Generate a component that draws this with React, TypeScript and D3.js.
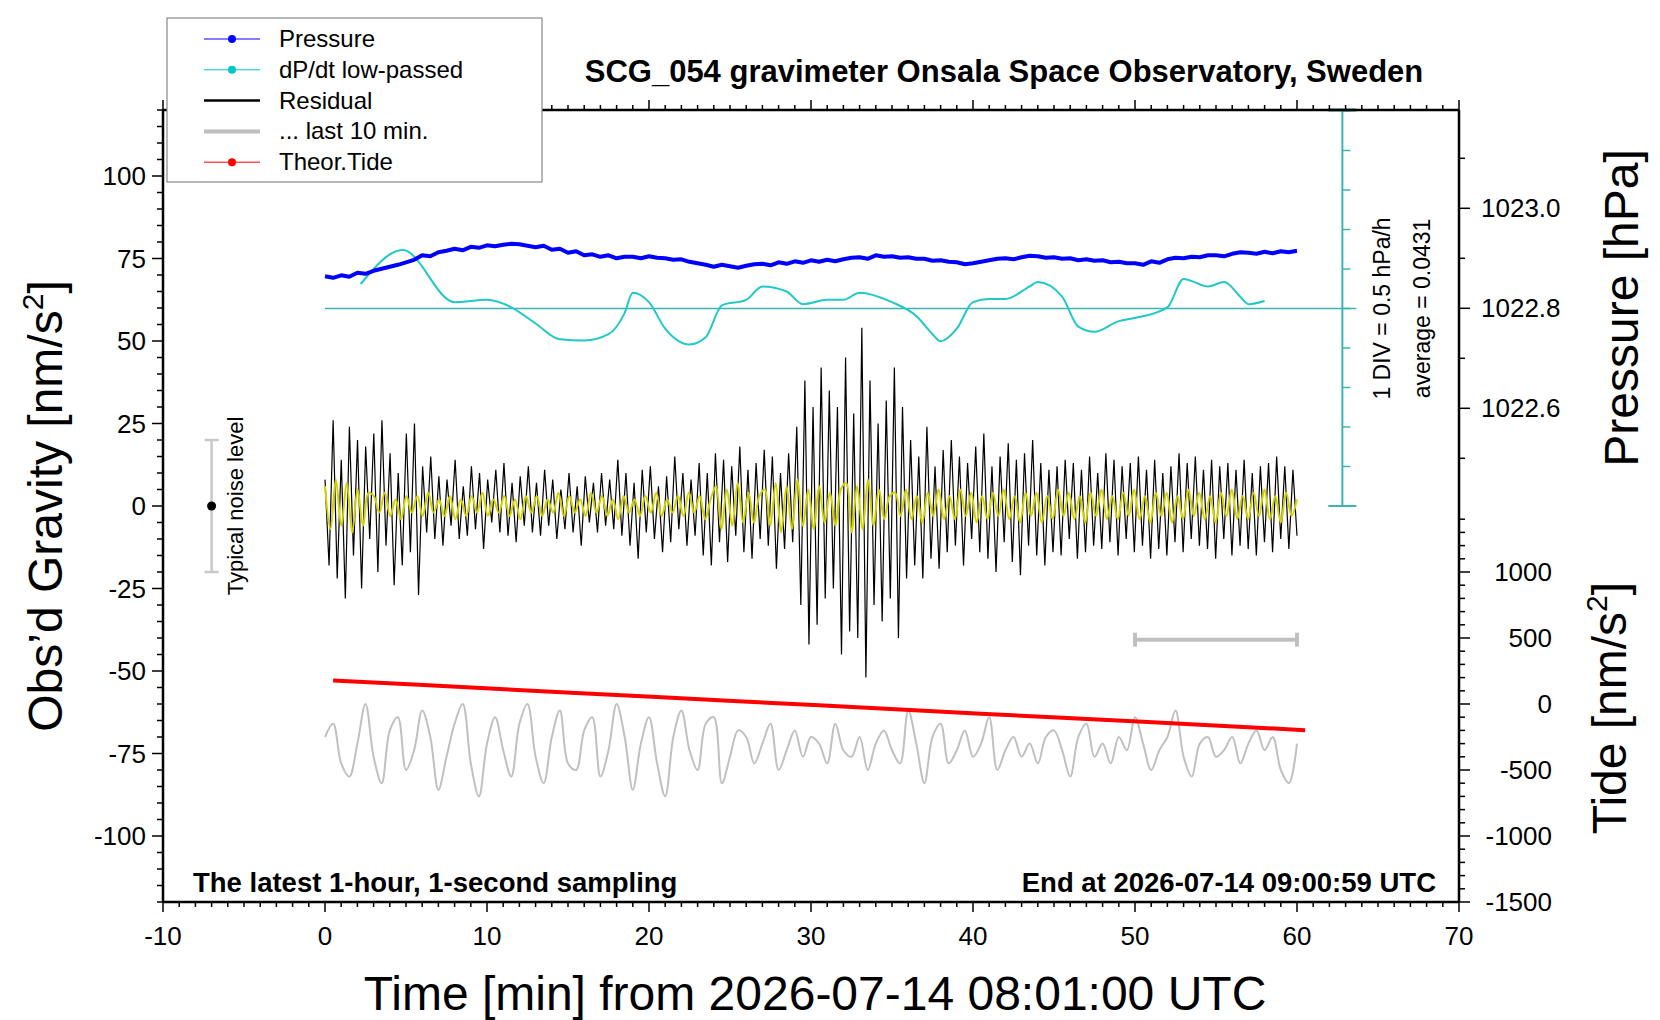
import React, { useEffect } from "react";
import * as d3 from "d3";

// pressure [hPa], every 30 s, 0..60 min
const pressure = [
  1022.864, 1022.861, 1022.866, 1022.863, 1022.871, 1022.869, 1022.875, 1022.879, 1022.883, 1022.887,
  1022.892, 1022.897, 1022.906, 1022.904, 1022.912, 1022.915, 1022.919, 1022.916, 1022.923, 1022.921,
  1022.926, 1022.924, 1022.927, 1022.929, 1022.928, 1022.925, 1022.922, 1022.925, 1022.917, 1022.919,
  1022.911, 1022.914, 1022.906, 1022.908, 1022.903, 1022.906, 1022.9, 1022.903, 1022.903, 1022.9,
  1022.904, 1022.901, 1022.9, 1022.897, 1022.898, 1022.893, 1022.89, 1022.887, 1022.883, 1022.887,
  1022.884, 1022.881, 1022.885, 1022.888, 1022.889, 1022.886, 1022.892, 1022.889, 1022.894, 1022.891,
  1022.896, 1022.893, 1022.897, 1022.894, 1022.898, 1022.901, 1022.902, 1022.899, 1022.906, 1022.903,
  1022.904, 1022.901, 1022.902, 1022.899, 1022.899, 1022.895, 1022.896, 1022.893, 1022.892, 1022.888,
  1022.89, 1022.893, 1022.896, 1022.899, 1022.9, 1022.898, 1022.902, 1022.905, 1022.904, 1022.901,
  1022.902, 1022.899, 1022.9, 1022.896, 1022.898, 1022.895, 1022.896, 1022.892, 1022.893, 1022.89,
  1022.89, 1022.887, 1022.894, 1022.891, 1022.898, 1022.901, 1022.9, 1022.903, 1022.902, 1022.906,
  1022.906, 1022.904, 1022.909, 1022.912, 1022.911, 1022.909, 1022.913, 1022.91, 1022.914, 1022.912, 1022.915,
];
// dP/dt low-passed, departure from average in DIV (1 DIV = 0.5 hPa/h)
const dpdtTime = [2.2, 4.8, 8, 10, 11.5, 13, 14.5, 16, 17.5, 18.5, 19, 20, 21, 22.5, 23.5, 24.5, 26, 27, 28.5, 29.5, 31, 32, 33, 35, 36.5, 37.5, 38, 39, 40, 41, 42, 43.5, 44, 45.5, 46.5, 47.5, 49, 50, 52, 53, 54.5, 55.5, 56.5, 57, 58];
const dpdtDiv = [0.62, 1.48, 0.16, 0.22, 0.03, -0.38, -0.78, -0.81, -0.65, -0.11, 0.4, 0.16, -0.51, -0.91, -0.73, 0.08, 0.22, 0.56, 0.43, 0.11, 0.22, 0.22, 0.4, 0.16, -0.19, -0.65, -0.83, -0.51, 0.16, 0.24, 0.24, 0.56, 0.67, 0.3, -0.46, -0.59, -0.32, -0.24, 0.03, 0.75, 0.56, 0.67, 0.3, 0.11, 0.19];
// residual gravity [nm/s^2], every 15 s
const residual = [
  8, -18, 26, -22, 14, -28, 24, -15, 20, -25, 18, -10, 22, -20, 26, -12, 16, -24, 10, -18, 22, -14, 25, -27, 12, -8, 15, -10,
  9, -12, 8, -6, 14, -10, 6, -9, 12, -7, 10, -13, 8, -5, 11, -8, 13, -9, 7, -11, 9, -6, 12, -8,
  7, -9, 11, -6, 8, -10, 5, -7, 10, -8, 6, -12, 9, -5, 7, -8, 10, -6, 8, -7,
  14, -9, 10, -12, 7, -16, 11, -8, 12, -10, 6, -14, 9, -11, 15, -7, 10, -12, 8, -9,
  13, -15, 10, -18, 16, -11, 14, -17, 12, -9, 18, -14, 11, -16, 13, -10, 17, -12, 15, -19, 10, -13, 16, -11,
  24, -30, 38, -42, 30, -36, 42, -28,
  35, -25, 30, -45, 45, -38, 28, -40, 54, -52, 38, -30, 25, -35, 32, -28, 42, -40, 30, -22,
  20, -18, 15, -22, 24, -16, 12, -19, 17, -14, 20, -12, 15, -18, 13, -10,
  18, -14, 22, -16, 12, -20, 15, -11, 19, -17, 14, -21, 16, -12, 20, -15, 13, -18, 11, -14,
  12, -15, 14, -10, 13, -16, 11, -14, 15, -12, 10, -13, 16, -11, 14, -15, 12, -10, 13, -14, 15, -12, 11, -16, 14, -13, 10, -15, 12, -11,
  16, -14, 13, -10, 15, -12, 11, -13, 14, -16, 12, -10, 13, -15, 11, -12, 14, -13, 10, -15, 12, -11, 13, -14, 15, -10, 12, -13, 11, -9,
];
// high-passed residual (yellow), every 20 s
const filtered = [
  6, -7, 8, -6, 7, -8, 5, -6, 4,
  3, -2, 4, -3, 2, -4, 3, -2, 3, -3, 4, -2, 2, -3, 3, -4, 2, -3, 3, -2, 4, -3, 2, -2, 3, -3, 2, -4, 3, -2, 3, -3,
  2, -2, 4, -3, 3, -2, 2, -3, 4, -2, 3, -3, 2, -4, 3, -2, 2, -3, 3, -2, 4, -3, 2, -2, 3, -3, 4, -2, 3, -4, 2,
  6, -7, 5, -6, 7, -5, 4, -5, 3,
  5, -6, 7, -8, 6, -7, 8, -6, 5, -7, 6, -5, 4, -6, 5,
  7, -8, 6, -7, 8, -6, 5, -4, 3,
  4, -3, 5, -4, 3, -5, 4, -3, 5, -4, 3, -4, 5, -3, 4, -5, 3, -4, 4, -3, 5, -4, 3, -5, 4,
  -3, 4, -5, 3, -4, 5, -3, 4, -4, 3, -5, 4, -3, 5, -4, 3, -4, 4, -3, 5, -4, 3, -5, 4, -3,
  4, -5, 3, -4, 5, -3, 4, -4, 3, -5, 4, -3, 5, -4, 3, -4, 4, -3, 5, -4, 3, -5, 4, -3, 2,
];
// last 10 min of residual, stretched over the axis, offset to -72
const last10 = [
  -70, -66, -78, -82, -72, -60, -76, -84, -68, -64, -80, -74, -62, -70, -86, -76, -66, -60, -78, -88,
  -72, -64, -74, -82, -66, -60, -76, -84, -70, -62, -78, -80, -68, -64, -82, -74, -60, -70, -86, -72,
  -64, -78, -88, -70, -62, -74, -80, -66, -64, -84, -76, -68, -70, -78, -72, -66, -80, -74, -68, -76,
  -70, -72, -78, -66, -74, -76, -70, -80, -72, -68, -74, -78, -62, -72, -84, -70, -66, -78, -74, -68,
  -76, -72, -64, -80, -74, -70, -76, -72, -78, -70, -68, -74, -82, -70, -66, -76, -72, -78, -70, -74,
  -64, -72, -80, -74, -70, -62, -76, -82, -72, -70, -76, -74, -70, -78, -72, -68, -74, -70, -80, -84, -72,
];
// theoretical tide [nm/s^2], every 5 min
const tideTime = [0.5, 5.5, 10.5, 15.5, 20.5, 25.5, 30.5, 35.5, 40.5, 45.5, 50.5, 55.5, 60.5];
const tide = [178, 147, 115, 84, 53, 21, -10, -41, -73, -104, -135, -167, -198];

const legendItems = [
  { label: "Pressure", color: "#0000ff", dot: true, w: 1 },
  { label: "dP/dt low-passed", color: "#00c8c8", dot: true, w: 1 },
  { label: "Residual", color: "#000000", dot: false, w: 2.5 },
  { label: "... last 10 min.", color: "#bebebe", dot: false, w: 4 },
  { label: "Theor.Tide", color: "#ff0000", dot: true, w: 1 },
];

const L = 163, R = 1459, T = 110, B = 902;
const FONT = "'Liberation Sans', Arial, sans-serif";

export default function App() {
  useEffect(() => {
    document.body.style.margin = "0";
  }, []);

  const x = d3.scaleLinear().domain([-10, 70]).range([L, R]);
  const y = d3.scaleLinear().domain([-120, 120]).range([B, T]);
  const yP = d3.scaleLinear().domain([1022.4, 1023.2]).range([508.3, 108.3]);
  const yT = d3.scaleLinear().domain([-1500, 1000]).range([B, 572]);
  const yD = d3.scaleLinear().domain([-5, 5]).range([506, 111]);
  const dAxisX = x(62.8);

  const pLine = d3.line<number>().x((_, i) => x(i / 2)).y((d) => yP(d));
  const dLine = d3.line<number>().x((_, i) => x(dpdtTime[i])).y((d) => yD(d)).curve(d3.curveMonotoneX);
  const rLine = d3.line<number>().x((_, i) => x((i * 60) / (residual.length - 1))).y((d) => y(d));
  const fLine = d3.line<number>().x((_, i) => x((i * 60) / (filtered.length - 1))).y((d) => y(d)).curve(d3.curveCatmullRom);
  const gLine = d3.line<number>().x((_, i) => x((i * 60) / (last10.length - 1))).y((d) => y(d)).curve(d3.curveCatmullRom);
  const tLine = d3.line<number>().x((_, i) => x(tideTime[i])).y((d) => yT(d));

  const xMinor = d3.range(-10, 70.01, 1);
  const xMajor = d3.range(-10, 70.01, 10);
  const yMinor = d3.range(-120, 120.01, 5);
  const yMajor = d3.range(-100, 100.01, 25);
  const pMinor = d3.range(1022.5, 1023.15, 0.1);
  const pMajor = [1022.6, 1022.8, 1023.0];
  const tMinor = d3.range(-1500, 1400.1, 100);
  const tMajor = d3.range(-1500, 1000.1, 500);
  const dTicks = d3.range(-5, 5.01, 1);
  const cyan = "#3cb4b4";

  return (
    <svg width={1660} height={1020} style={{ display: "block", fontFamily: FONT }}>
      <rect width={1660} height={1020} fill="#fff" />
      {/* dP/dt axis */}
      <line x1={dAxisX} x2={dAxisX} y1={T} y2={yD(-5)} stroke={cyan} strokeWidth={2} />
      <line x1={x(0)} x2={dAxisX + 14} y1={yD(0)} y2={yD(0)} stroke={cyan} strokeWidth={1.5} />
      <line x1={dAxisX - 14} x2={dAxisX + 14} y1={T} y2={T} stroke="#2a8c8c" strokeWidth={3} />
      <line x1={dAxisX - 14} x2={dAxisX + 14} y1={yD(-5)} y2={yD(-5)} stroke={cyan} strokeWidth={2} />
      {dTicks.map((d) => (
        <line key={d} x1={dAxisX} x2={dAxisX + 8} y1={yD(d)} y2={yD(d)} stroke={cyan} strokeWidth={1.5} />
      ))}
      <text transform={`translate(1390,${yD(0)}) rotate(-90)`} textAnchor="middle" fontSize={23}>1 DIV = 0.5 hPa/h</text>
      <text transform={`translate(1430,${yD(0)}) rotate(-90)`} textAnchor="middle" fontSize={23}>average = 0.0431</text>

      {/* data */}
      <path d={gLine(last10)!} fill="none" stroke="#c0c0c0" strokeWidth={2} />
      <path d={tLine(tide)!} fill="none" stroke="#ff0000" strokeWidth={4} />
      <path d={rLine(residual)!} fill="none" stroke="#000" strokeWidth={1.2} />
      <path d={fLine(filtered)!} fill="none" stroke="#d2d200" strokeWidth={2} />
      <path d={dLine(dpdtDiv)!} fill="none" stroke="#20c8c8" strokeWidth={2} />
      <path d={pLine(pressure)!} fill="none" stroke="#0000ff" strokeWidth={4} strokeLinejoin="round" />

      {/* 10 min bar */}
      <g stroke="#c0c0c0" strokeWidth={4}>
        <line x1={x(50)} x2={x(60)} y1={y(-40.5)} y2={y(-40.5)} />
        <line x1={x(50)} x2={x(50)} y1={y(-40.5) - 7} y2={y(-40.5) + 7} />
        <line x1={x(60)} x2={x(60)} y1={y(-40.5) - 7} y2={y(-40.5) + 7} />
      </g>
      {/* typical noise */}
      <g stroke="#c8c8c8" strokeWidth={2.5}>
        <line x1={x(-7)} x2={x(-7)} y1={y(20)} y2={y(-20)} />
        <line x1={x(-7) - 7} x2={x(-7) + 7} y1={y(20)} y2={y(20)} />
        <line x1={x(-7) - 7} x2={x(-7) + 7} y1={y(-20)} y2={y(-20)} />
      </g>
      <circle cx={x(-7)} cy={y(0)} r={4.5} fill="#000" />
      <text transform={`translate(243,${y(0)}) rotate(-90)`} textAnchor="middle" fontSize={22}>Typical noise level</text>

      {/* frame */}
      <g stroke="#000" strokeWidth={2.5} fill="none">
        <line x1={L} x2={R} y1={B} y2={B} />
        <line x1={L} x2={R} y1={T} y2={T} />
        <line x1={L} x2={L} y1={T} y2={B} />
        <line x1={R} x2={R} y1={T} y2={B} />
      </g>
      <g stroke="#000" strokeWidth={1.5}>
        {xMinor.map((d) => (
          <g key={"x" + d}>
            <line x1={x(d)} x2={x(d)} y1={B} y2={B + (d % 10 === 0 ? 10 : 5)} />
            <line x1={x(d)} x2={x(d)} y1={T} y2={T - (d % 10 === 0 ? 10 : 5)} />
          </g>
        ))}
        {yMinor.map((d) => (
          <line key={"y" + d} x1={L} x2={L - (d % 25 === 0 ? 11 : 6)} y1={y(d)} y2={y(d)} />
        ))}
        {pMinor.map((d) => (
          <line key={"p" + d} x1={R} x2={R + (pMajor.some((m) => Math.abs(m - d) < 1e-6) ? 11 : 6)} y1={yP(d)} y2={yP(d)} />
        ))}
        {tMinor.map((d) => (
          <line key={"t" + d} x1={R} x2={R + (d % 500 === 0 ? 11 : 6)} y1={yT(d)} y2={yT(d)} />
        ))}
      </g>
      <g fontSize={26}>
        {xMajor.map((d) => (
          <text key={d} x={x(d)} y={945} textAnchor="middle">{d}</text>
        ))}
        {yMajor.map((d) => (
          <text key={d} x={146} y={y(d) + 9} textAnchor="end">{d}</text>
        ))}
        {pMajor.map((d) => (
          <text key={d} x={1481} y={yP(d) + 9}>{d.toFixed(1)}</text>
        ))}
        {tMajor.map((d) => (
          <text key={d} x={1552} y={yT(d) + 9} textAnchor="end">{d}</text>
        ))}
      </g>

      {/* texts */}
      <text x={1004} y={82} textAnchor="middle" fontSize={31} fontWeight="bold">SCG_054 gravimeter Onsala Space Observatory, Sweden</text>
      <text x={193} y={892} fontSize={27.5} fontWeight="bold">The latest 1-hour, 1-second sampling</text>
      <text x={1436} y={892} textAnchor="end" fontSize={27.5} fontWeight="bold">End at 2026-07-14 09:00:59 UTC</text>
      <text x={815} y={1010} textAnchor="middle" fontSize={48}>Time [min] from 2026-07-14 08:01:00 UTC</text>
      <text transform={`translate(62,${y(0)}) rotate(-90)`} textAnchor="middle" fontSize={48}>
        Obs’d Gravity [nm/s<tspan fontSize={30} dy={-19}>2</tspan><tspan dy={19}>]</tspan>
      </text>
      <text transform={`translate(1638,308) rotate(-90)`} textAnchor="middle" fontSize={48}>Pressure [hPa]</text>
      <text transform={`translate(1626,708) rotate(-90)`} textAnchor="middle" fontSize={48}>
        Tide [nm/s<tspan fontSize={30} dy={-19}>2</tspan><tspan dy={19}>]</tspan>
      </text>

      {/* legend */}
      <rect x={167} y={18} width={375} height={164} fill="#fff" stroke="#888" strokeWidth={1.2} />
      {legendItems.map((it, i) => {
        const ly = 39 + i * 30.8;
        return (
          <g key={it.label}>
            <line x1={204} x2={260} y1={ly} y2={ly} stroke={it.color} strokeWidth={it.w} />
            {it.dot && <circle cx={232} cy={ly} r={4} fill={it.color} />}
            <text x={279} y={ly + 8} fontSize={24}>{it.label}</text>
          </g>
        );
      })}
    </svg>
  );
}
